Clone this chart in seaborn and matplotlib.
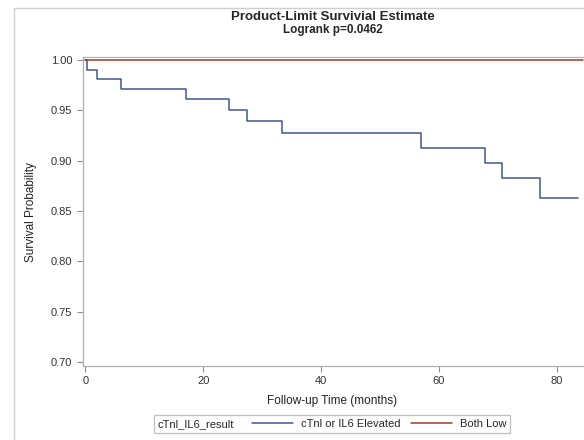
import matplotlib
matplotlib.use("Agg")
import matplotlib.pyplot as plt
import pandas as pd
import seaborn as sns
from matplotlib.lines import Line2D
from matplotlib.offsetbox import HPacker
from matplotlib.patches import Rectangle

# Kaplan-Meier step values (time in months, survival)
elev_time = [0, 0.2, 1.9, 6.0, 17.1, 24.4, 27.4, 33.4, 56.9, 67.8, 70.7, 77.2, 83.6]
elev_surv = [1.0, 0.990, 0.981, 0.971, 0.961, 0.950, 0.939, 0.927, 0.913, 0.898, 0.883, 0.863, 0.863]
low_time = [0, 84.5]
low_surv = [1.0, 1.0]

groups = ["cTnl or IL6 Elevated", "Both Low"]
group_colors = ["#445694", "#A23A2E"]
x_ticks = [0, 20, 40, 60, 80]
y_ticks = [0.70, 0.75, 0.80, 0.85, 0.90, 0.95, 1.00]

df = pd.concat([
    pd.DataFrame({"time": elev_time, "surv": elev_surv, "group": groups[0]}),
    pd.DataFrame({"time": low_time, "surv": low_surv, "group": groups[1]}),
])

sns.set_style("white")
plt.rcParams["font.family"] = ["Liberation Sans", "DejaVu Sans"]

W, H = 584, 440
fig = plt.figure(figsize=(W / 100, H / 100), dpi=100)
# axes runs past the right edge, as in the cropped original
ax_l, ax_r, ax_t, ax_b = 82.7, 600, 57.3, 366
ax = fig.add_axes([ax_l / W, 1 - ax_b / H, (ax_r - ax_l) / W, (ax_b - ax_t) / H])

sns.lineplot(data=df, x="time", y="surv", hue="group", hue_order=groups,
             palette=dict(zip(groups, group_colors)), drawstyle="steps-post",
             estimator=None, linewidth=1.1, legend=False, ax=ax)

ax.set_xlim(-0.475, 87.35)
ax.set_ylim(0.696, 1.0027)
ax.set_xticks(x_ticks)
ax.set_yticks(y_ticks)
ax.set_yticklabels([f"{v:.2f}" for v in y_ticks])
ax.tick_params(axis="both", which="major", bottom=True, left=True, top=False, right=False,
               direction="out", length=4.5, width=0.8, color="#8f8f8f",
               labelsize=8, labelcolor="#333333", pad=3)
for s in ax.spines.values():
    s.set_color("#b0b0b0")
    s.set_linewidth(0.9)

ax.set_xlabel("Follow-up Time (months)", fontsize=8.5, color="#222222")
ax.xaxis.set_label_coords((332 - ax_l) / (ax_r - ax_l), -0.095)
ax.set_ylabel("Survival Probability", fontsize=8.5, color="#222222")
ax.yaxis.set_label_coords((37 - ax_l) / (ax_r - ax_l), 0.5)

fig.text(333 / W, 1 - 17 / H, "Product-Limit Survivial Estimate", ha="center",
         va="center", fontsize=9.5, fontweight="bold")
fig.text(333 / W, 1 - 30 / H, "Logrank p=0.0462", ha="center", va="center",
         fontsize=8.5, fontweight="bold")

handles = [Line2D([], [], color=c, lw=1.1) for c in group_colors]
leg = fig.legend(handles, groups, loc="center", bbox_to_anchor=(332 / W, 1 - 424 / H),
                 ncol=2, fontsize=8, title="cTnl_IL6_result", title_fontsize=8,
                 frameon=True, fancybox=False, edgecolor="#b0b0b0",
                 handlelength=3.7, handletextpad=0.7, columnspacing=1.0,
                 borderpad=0.35)
leg.get_frame().set_linewidth(0.9)
# put the legend title to the left of the entries, SAS style
fs = leg._fontsize
leg._legend_box = HPacker(pad=leg.borderpad * fs, sep=1.6 * fs, align="center",
                          children=[leg._legend_title_box, leg._legend_handle_box])
leg._legend_box.set_figure(fig)
leg._legend_box.set_offset(leg._findoffset)

# outer graph border (cropped on the right and bottom)
fig.patches.append(Rectangle((14 / W, -0.1), 1.0, 1.1 - 8 / H, transform=fig.transFigure,
                             fill=False, edgecolor="#cfcfcf", linewidth=1.0))

fig.savefig("out.png", dpi=100)
